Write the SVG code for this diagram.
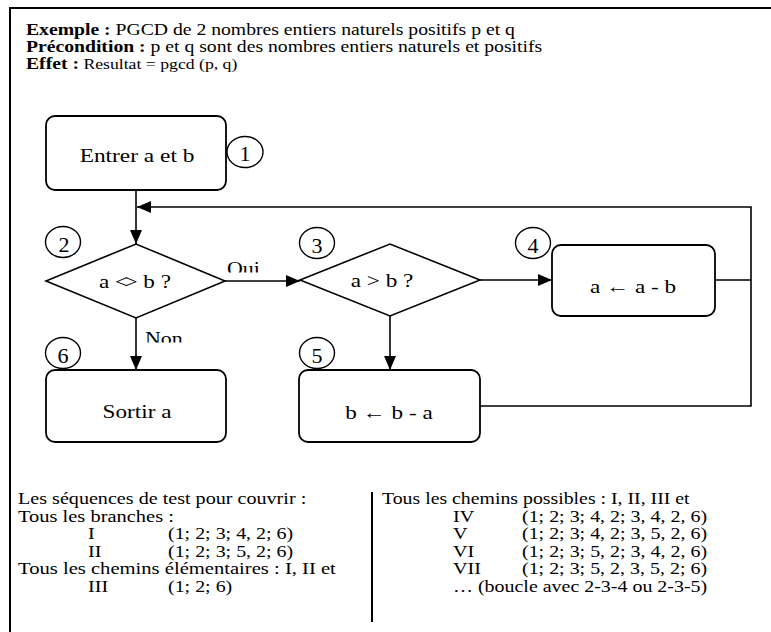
<svg xmlns="http://www.w3.org/2000/svg" width="771" height="632" viewBox="0 0 771 632">
  <style>
    .t { font-family: "Liberation Serif", "Times New Roman", serif; fill: #000; }
    .b { font-weight: bold; }
    .box { fill: #fff; stroke: #000; stroke-width: 1.8; }
    .dia { fill: #fff; stroke: #000; stroke-width: 1.6; }
    .num { fill: none; stroke: #000; stroke-width: 1.4; }
    .wire { fill: none; stroke: #000; stroke-width: 1.6; }
    .seq { font-size: 16.5px; }
    .lbl { font-size: 19px; text-anchor: middle; }
    .dig { font-size: 21px; text-anchor: middle; }
  </style>
  <defs>
    <marker id="arrow" markerUnits="userSpaceOnUse" markerWidth="14" markerHeight="12" refX="14" refY="6" orient="auto">
      <path d="M0,0 L14,6 L0,12 Z" fill="#000"/>
    </marker>
    <clipPath id="clipOui"><rect x="200" y="250" width="80" height="22.5"/></clipPath>
    <clipPath id="clipNon"><rect x="140" y="320" width="60" height="22.5"/></clipPath>
  </defs>

  <rect width="771" height="632" fill="#fff"/>
  <!-- outer frame, open to the right and bottom -->
  <path d="M10,632 V8 H771" fill="none" stroke="#000" stroke-width="2"/>

  <!-- header -->
  <g id="header">
    <text class="t" font-size="16" transform="matrix(1.23 0 0 1 26 35)"><tspan class="b">Exemple :</tspan> PGCD de 2 nombres entiers naturels positifs p et q</text>
    <text class="t" font-size="16" transform="matrix(1.23 0 0 1 26 52)"><tspan class="b">Précondition :</tspan> p et q sont des nombres entiers naturels et positifs</text>
    <text class="t" font-size="16" transform="matrix(1.23 0 0 1 26 69)"><tspan class="b">Effet :</tspan><tspan font-size="14.4"> Resultat = pgcd (p, q)</tspan></text>
  </g>

  <!-- connectors -->
  <g id="connectors">
    <path class="wire" d="M136,190 V244" marker-end="url(#arrow)"/>
    <path class="wire" d="M480,406 H751 V207 H137" marker-end="url(#arrow)"/>
    <path class="wire" d="M715,280 H751"/>
    <path class="wire" d="M225,281 H300" marker-end="url(#arrow)"/>
    <path class="wire" d="M480,280 H552" marker-end="url(#arrow)"/>
    <path class="wire" d="M136,318 V370" marker-end="url(#arrow)"/>
    <path class="wire" d="M390,316 V370" marker-end="url(#arrow)"/>
    <g clip-path="url(#clipOui)">
      <text class="t" font-size="18" transform="matrix(1.22 0 0 1 227 275)">Oui</text>
    </g>
    <g clip-path="url(#clipNon)">
      <text class="t" font-size="18" transform="matrix(1.22 0 0 1 145 345)">Non</text>
    </g>
  </g>

  <!-- 1: input -->
  <g id="n1">
    <rect class="box" x="46" y="116" width="180" height="74" rx="9"/>
    <text class="t lbl" transform="matrix(1.23 0 0 1 137 162)">Entrer a et b</text>
    <ellipse class="num" cx="245" cy="152" rx="18" ry="15.5"/>
    <text class="t dig" transform="matrix(1.05 0 0 1 245 161)">1</text>
  </g>

  <!-- 2: a <> b ? -->
  <g id="n2">
    <polygon class="dia" points="46,281 136,244 225,281 136,318"/>
    <text class="t lbl" transform="matrix(1.22 0 0 1 135 288)">a &lt;<tspan dx="-3">&gt;</tspan> b ?</text>
    <ellipse class="num" cx="63" cy="242" rx="17.5" ry="15.5"/>
    <text class="t dig" transform="matrix(1.05 0 0 1 64 251.5)">2</text>
  </g>

  <!-- 3: a > b ? -->
  <g id="n3">
    <polygon class="dia" points="300,280 390,244 480,280 390,316"/>
    <text class="t lbl" transform="matrix(1.22 0 0 1 382 287)">a &gt; b ?</text>
    <ellipse class="num" cx="317" cy="243" rx="17.5" ry="15.5"/>
    <text class="t dig" transform="matrix(1.05 0 0 1 317 252.5)">3</text>
  </g>

  <!-- 4: a <- a - b -->
  <g id="n4">
    <rect class="box" x="552" y="245" width="163" height="71" rx="9"/>
    <text class="t lbl" transform="matrix(1.22 0 0 1 633 293)">a ← a - b</text>
    <ellipse class="num" cx="533" cy="243" rx="17.5" ry="15.5"/>
    <text class="t dig" transform="matrix(1.05 0 0 1 533 252.5)">4</text>
  </g>

  <!-- 5: b <- b - a -->
  <g id="n5">
    <rect class="box" x="299" y="370" width="181" height="72" rx="9"/>
    <text class="t lbl" transform="matrix(1.22 0 0 1 389 419)">b ← b - a</text>
    <ellipse class="num" cx="317" cy="353" rx="17.5" ry="15.5"/>
    <text class="t dig" transform="matrix(1.05 0 0 1 317 362.5)">5</text>
  </g>

  <!-- 6: output -->
  <g id="n6">
    <rect class="box" x="46" y="370" width="180" height="72" rx="9"/>
    <text class="t lbl" transform="matrix(1.22 0 0 1 137 418)">Sortir a</text>
    <ellipse class="num" cx="63" cy="353" rx="17.5" ry="15.5"/>
    <text class="t dig" transform="matrix(1.05 0 0 1 63 362.5)">6</text>
  </g>

  <!-- test sequences -->
  <g id="sequences">
    <text class="t seq" transform="matrix(1.22 0 0 1 18 504)">Les séquences de test pour couvrir :</text>
    <text class="t seq" transform="matrix(1.24 0 0 1 18 521.6)">Tous les branches :</text>
    <text class="t seq" transform="matrix(1.22 0 0 1 88 539.2)">I</text>
    <text class="t seq" transform="matrix(1.21 0 0 1 168 539.2)">(1; 2; 3; 4, 2; 6)</text>
    <text class="t seq" transform="matrix(1.22 0 0 1 88 556.8)">II</text>
    <text class="t seq" transform="matrix(1.21 0 0 1 168 556.8)">(1; 2; 3; 5, 2; 6)</text>
    <text class="t seq" transform="matrix(1.25 0 0 1 18 574.4)">Tous les chemins élémentaires : I, II et</text>
    <text class="t seq" transform="matrix(1.22 0 0 1 88 592)">III</text>
    <text class="t seq" transform="matrix(1.21 0 0 1 168 592)">(1; 2; 6)</text>

    <line x1="372" y1="492" x2="372" y2="622" stroke="#000" stroke-width="2"/>

    <text class="t seq" transform="matrix(1.2 0 0 1 382 504)">Tous les chemins possibles  : I, II, III et</text>
    <text class="t seq" transform="matrix(1.22 0 0 1 453 521.6)">IV</text>
    <text class="t seq" transform="matrix(1.21 0 0 1 522 521.6)">(1; 2; 3; 4, 2; 3, 4, 2, 6)</text>
    <text class="t seq" transform="matrix(1.22 0 0 1 453 539.2)">V</text>
    <text class="t seq" transform="matrix(1.21 0 0 1 522 539.2)">(1; 2; 3; 4, 2; 3, 5, 2, 6)</text>
    <text class="t seq" transform="matrix(1.22 0 0 1 453 556.8)">VI</text>
    <text class="t seq" transform="matrix(1.21 0 0 1 522 556.8)">(1; 2; 3; 5, 2; 3, 4, 2, 6)</text>
    <text class="t seq" transform="matrix(1.22 0 0 1 453 574.4)">VII</text>
    <text class="t seq" transform="matrix(1.21 0 0 1 522 574.4)">(1; 2; 3; 5, 2, 3, 5, 2; 6)</text>
    <text class="t seq" transform="matrix(1.21 0 0 1 453 592)">… (boucle avec 2-3-4 ou 2-3-5)</text>
  </g>
</svg>
